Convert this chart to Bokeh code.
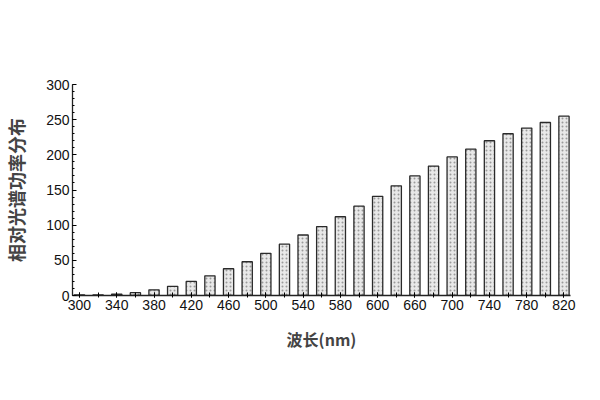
from bokeh.plotting import figure
from bokeh.models import FixedTicker, Range1d, ColumnDataSource
from bokeh.embed import file_html
from bokeh.resources import INLINE

wavelengths = [300, 320, 340, 360, 380, 400, 420, 440, 460, 480, 500, 520, 540,
               560, 580, 600, 620, 640, 660, 680, 700, 720, 740, 760, 780, 800, 820]
power = [1, 1, 2, 4, 8, 13, 20, 28, 38, 48, 60, 73, 86,
         98, 112, 127, 141, 156, 170, 184, 197, 208, 220, 230, 238, 246, 255]

x_ticks = [300, 340, 380, 420, 460, 500, 540, 580, 620, 660, 700, 740, 780, 820]
x_tick_labels = ["300", "340", "380", "420", "460", "500", "540", "580", "600",
                 "660", "700", "740", "780", "820"]
y_ticks = [0, 50, 100, 150, 200, 250, 300]

src = ColumnDataSource(dict(x=wavelengths, top=power))

p = figure(width=584, height=384, output_backend="svg", toolbar_location=None,
           x_range=Range1d(292.5, 827), y_range=Range1d(0, 300),
           min_border_left=69, min_border_right=14, min_border_top=84,
           min_border_bottom=89)

p.vbar(x="x", top="top", bottom=0, width=11, source=src,
       fill_color="#e8e8e8", line_color="#2a2a2a", line_width=1.3,
       hatch_pattern="dot", hatch_color="#9a9a9a", hatch_scale=4, hatch_weight=1)

p.outline_line_color = None
p.grid.visible = False
p.background_fill_color = "white"

xa = p.xaxis[0]
xa.ticker = FixedTicker(ticks=x_ticks, minor_ticks=wavelengths)
xa.major_label_overrides = {t: l for t, l in zip(x_ticks, x_tick_labels)}
xa.axis_label = "波长(nm)"
xa.axis_label_text_font = "Noto Sans CJK SC"
xa.axis_label_text_font_style = "bold"
xa.axis_label_text_font_size = "16px"
xa.axis_label_standoff = 14
xa.major_label_text_font = "Liberation Sans"
xa.major_label_text_font_size = "14px"
xa.major_label_text_color = "#111111"
xa.major_label_standoff = 2
xa.major_tick_in = 3
xa.major_tick_out = 2
xa.minor_tick_in = 3
xa.minor_tick_out = 2
xa.axis_line_color = "#222222"
xa.axis_line_width = 1.3

ya = p.yaxis[0]
ya.ticker = FixedTicker(ticks=y_ticks, minor_ticks=list(range(0, 301, 10)))
ya.axis_label = "相对光谱功率分布"
ya.axis_label_text_font = "Noto Sans CJK SC"
ya.axis_label_text_font_style = "bold"
ya.axis_label_text_font_size = "18px"
ya.axis_label_standoff = 14
ya.major_label_text_font = "Liberation Sans"
ya.major_label_text_font_size = "14px"
ya.major_label_text_color = "#111111"
ya.major_label_standoff = 3
ya.major_tick_in = 4
ya.major_tick_out = 0
ya.minor_tick_in = 2
ya.minor_tick_out = 0
ya.axis_line_color = "#222222"
ya.axis_line_width = 1.3

open("out.html", "w").write(file_html(p, INLINE))
